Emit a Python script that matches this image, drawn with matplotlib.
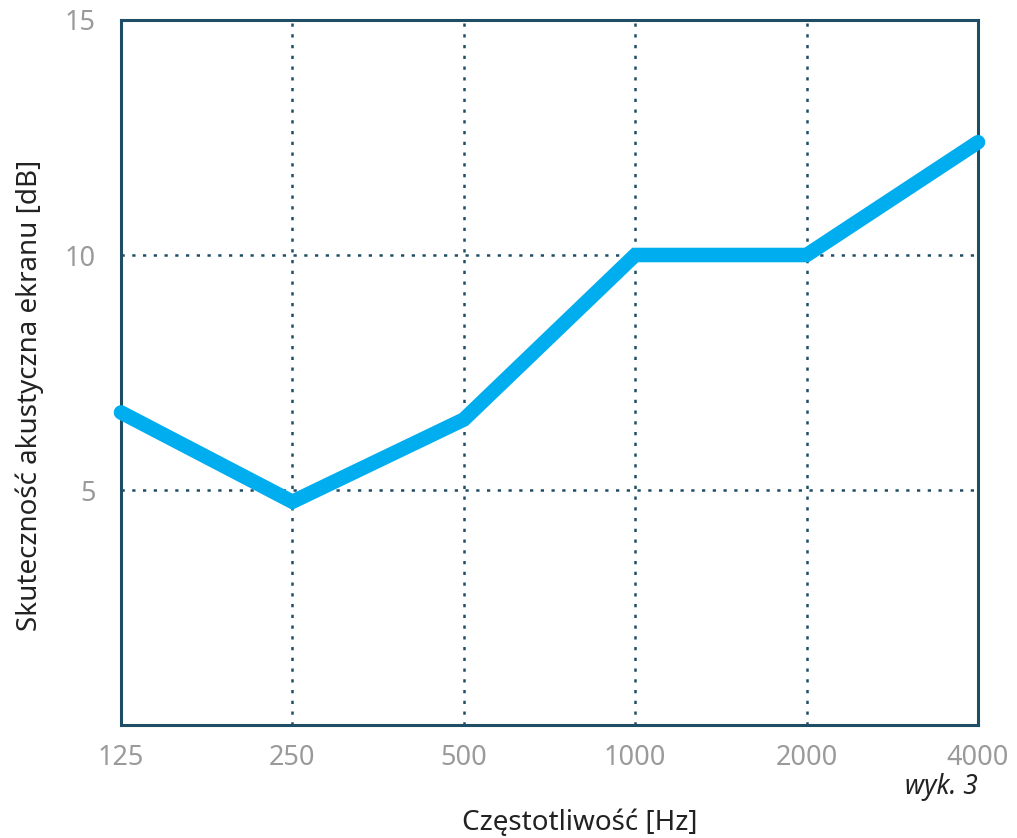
import matplotlib.pyplot as plt

freqs = ['125', '250', '500', '1000', '2000', '4000']
atten = [6.65, 4.75, 6.5, 10.0, 10.0, 12.4]
yticks = [5, 10, 15]

spine_col = '#1f4d66'
line_col = '#00aeef'
tick_col = '#9a9a9a'

plt.rcParams['font.family'] = ['Noto Sans', 'DejaVu Sans']

fig = plt.figure(figsize=(10.17, 8.38), dpi=100)
ax = fig.add_axes([121/1017, 1 - 725/838, (978-121)/1017, (725-20)/838])

xs = list(range(len(freqs)))
ax.plot(xs, atten, color=line_col, linewidth=10.5, solid_capstyle='round',
        solid_joinstyle='miter', zorder=3, clip_on=False)

ax.set_xlim(0, len(freqs) - 1)
ax.set_ylim(0, 15)
ax.set_xticks(xs)
ax.set_xticklabels(freqs)
ax.set_yticks(yticks)
ax.tick_params(length=0, labelsize=19.5, labelcolor=tick_col)
ax.tick_params(axis='x', pad=14)
ax.tick_params(axis='y', pad=18)
for lab in ax.get_xticklabels() + ax.get_yticklabels():
    lab.set_fontweight('light')

ax.grid(True, color=spine_col, linestyle=(0, (1.3, 3)), linewidth=1.8)
for s in ax.spines.values():
    s.set_color(spine_col)
    s.set_linewidth(2.2)

fig.text(580/1017, 1 - 823/838, 'Częstotliwość [Hz]', ha='center', va='center',
         fontsize=20, color='#222222')
fig.text(30/1017, 1 - 395/838, 'Skuteczność akustyczna ekranu [dB]', ha='center',
         va='center', rotation=90, fontsize=20, color='#222222')
fig.text(978/1017, 1 - 787/838, 'wyk. 3', ha='right', va='center',
         fontsize=19, style='italic', color='#222222')

fig.savefig('out.png', dpi=100)
